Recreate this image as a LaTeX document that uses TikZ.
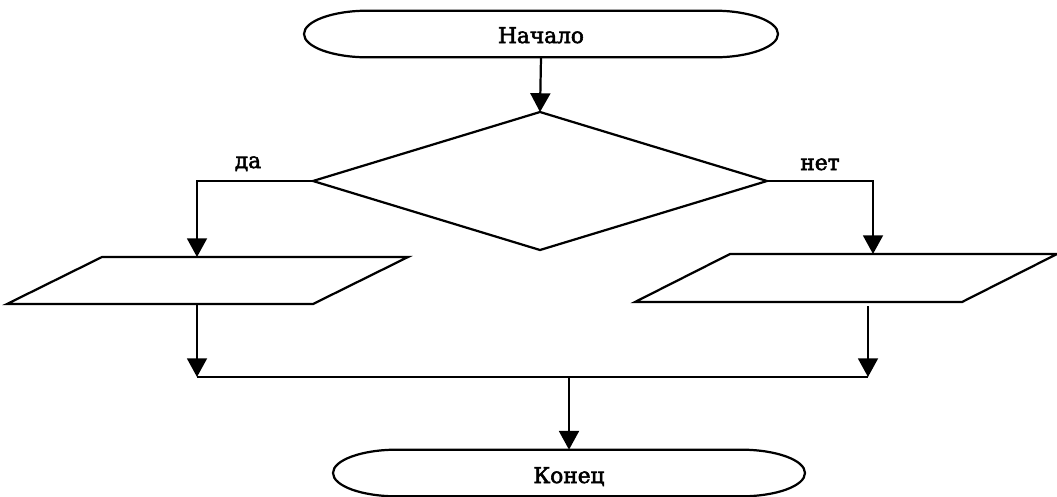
\documentclass[tikz,border=0pt]{standalone}
\usepackage{fontspec}
\setmainfont{DejaVu Serif}[BoldFont={DejaVu Serif},BoldFeatures={FakeBold=2.5}]
\usetikzlibrary{arrows.meta,shapes.geometric,calc}
\begin{document}
\begin{tikzpicture}[x=0.03cm,y=-0.03cm,
  line width=1.9pt,
  arr/.style={-{Triangle[width=17pt,length=16pt]}},
  txt/.style={font=\fontsize{18.5}{22}\selectfont\bfseries},
  term/.style={txt,inner sep=0pt,outer sep=0pt,minimum height=1.4cm,text depth=0pt},
  body/.style={inner sep=0pt,outer sep=0pt},
  line join=miter]
\useasboundingbox (0,0) rectangle (1057,496);

% terminals
\node[term,minimum width=14.22cm,text height=0.54cm] (start) at (541,34) {Начало};
\draw ([xshift=1.92cm]start.north west) -- ([xshift=-1.92cm]start.north east)
  arc[start angle=90,end angle=-90,x radius=1.92cm,y radius=0.7cm]
  -- ([xshift=1.92cm]start.south west)
  arc[start angle=270,end angle=90,x radius=1.92cm,y radius=0.7cm] -- cycle;

\node[term,minimum width=14.16cm,text height=0.6cm] (stop) at (569,473) {Конец};
\draw ([xshift=1.92cm]stop.north west) -- ([xshift=-1.92cm]stop.north east)
  arc[start angle=90,end angle=-90,x radius=1.92cm,y radius=0.7cm]
  -- ([xshift=1.92cm]stop.south west)
  arc[start angle=270,end angle=90,x radius=1.92cm,y radius=0.7cm] -- cycle;

% decision
\node[draw,diamond,inner sep=0pt,outer sep=0pt,minimum width=13.62cm,minimum height=4.14cm] (dec) at (540,181) {};

% parallelograms (data blocks)
\node[body,minimum width=12.03cm,minimum height=1.41cm] (lp) at (207.5,280.5) {};
\draw ($(lp.north west)+(95,0)$) -- (lp.north east) -- ($(lp.south east)+(-95,0)$) -- (lp.south west) -- cycle;
\node[body,minimum width=12.66cm,minimum height=1.44cm] (rp) at (846,278) {};
\draw ($(rp.north west)+(95,0)$) -- (rp.north east) -- ($(rp.south east)+(-95,0)$) -- (rp.south west) -- cycle;

% labels
\node[txt,anchor=base] (yes) at (248,168) {да};
\node[txt,anchor=base] (no) at (820,170) {нет};

% connectors
\coordinate (jl) at (197,377);
\coordinate (jr) at (868,377);
\draw[arr] (start.south) -- (dec.north);
\draw[arr] (dec.west) -| ($(lp.north)+(-10.5,0)$);
\draw[arr] (dec.east) -| ($(rp.north)+(27,0)$);
\draw[arr] ($(lp.south)+(-10.5,0)$) -- (jl);
\draw[arr] ($(rp.south)+(22,4)$) -- (jr);
\draw (jl) -- (jr);
\draw[arr] (stop.north |- jl) -- (stop.north);
\end{tikzpicture}
\end{document}
